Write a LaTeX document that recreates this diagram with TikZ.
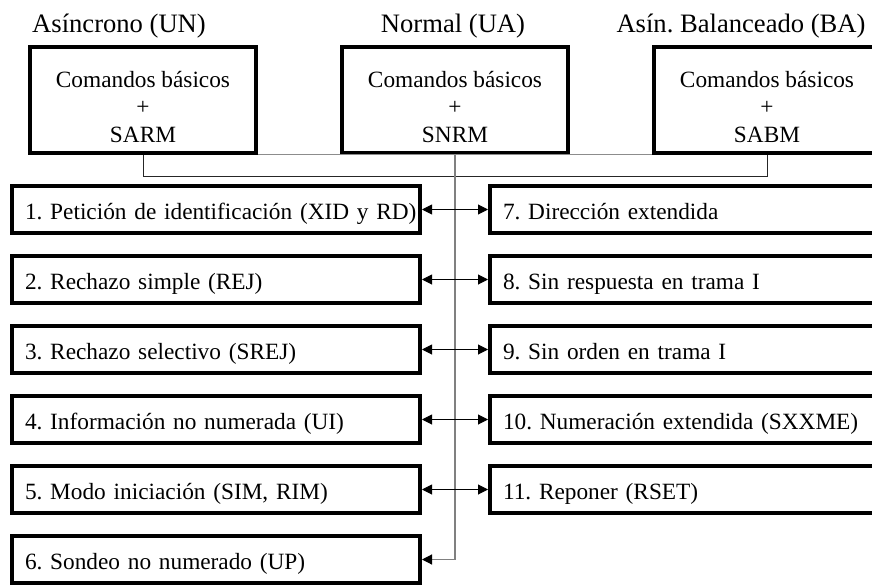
\documentclass[tikz,border=0pt]{standalone}
\usepackage{fontspec}
\setmainfont{Liberation Serif}
\usetikzlibrary{arrows.meta}
\begin{document}
\frenchspacing
\begin{tikzpicture}[x=1pt,y=-1pt,
  modebox/.style={draw, line width=4pt, minimum width=226pt, minimum height=106pt, inner sep=0pt},
  modetext/.style={align=center, font=\fontsize{23.3}{27.5}\selectfont, inner sep=0pt},
  title/.style={anchor=base, font=\fontsize{26.6}{30}\selectfont, inner sep=0pt},
  itembox/.style={draw, line width=4pt, minimum width=408pt, minimum height=47pt,
    text width=382pt, align=left, inner xsep=13pt, inner ysep=9.5pt,
    text height=24pt, text depth=4pt, font=\fontsize{23.3}{27}\selectfont},
  rail/.style={line width=1pt, black!45},
  bus/.style={line width=1pt, black!85},
  trunk/.style={line width=1.2pt, black!50},
  tip/.tip={Triangle[length=10pt,width=10pt,color=black]},
  link/.style={line width=1pt, tip-tip},
]
\useasboundingbox (0,0) rectangle (872,588);
\clip (0,0) rectangle (872,588);

% operating mode headings
\node[title] (tUN) at (119,33) {Asíncrono (UN)};
\node[title] (tUA) at (453,33) {Normal (UA)};
\node[title] (tBA) at (741,33) {Asín. Balanceado (BA)};

% mode boxes
\node[modebox] (A) at (143,100) {};
\node[modebox] (B) at (455,100) {};
\node[modebox] (C) at (767,100) {};
\node[modetext] (txA) at (143,107) {Comandos básicos\\+\\SARM};
\node[modetext] (txB) at (455,107) {Comandos básicos\\+\\SNRM};
\node[modetext] (txC) at (767,107) {Comandos básicos\\+\\SABM};

% optional functions, left column
\node[itembox] (L1) at (216,209.5) {\mbox{1. Petición de identificación (XID y RD)}};
\node[itembox] (L2) at (216,279.5) {2. Rechazo simple (REJ)};
\node[itembox] (L3) at (216,349.5) {3. Rechazo selectivo (SREJ)};
\node[itembox] (L4) at (216,419.5) {4. Información no numerada (UI)};
\node[itembox] (L5) at (216,489.5) {5. Modo iniciación (SIM, RIM)};
\node[itembox] (L6) at (216,559.5) {6. Sondeo no numerado (UP)};

% optional functions, right column
\node[itembox] (R1) at (694,209.5) {7. Dirección extendida};
\node[itembox] (R2) at (694,279.5) {8. Sin respuesta en trama I};
\node[itembox] (R3) at (694,349.5) {9. Sin orden en trama I};
\node[itembox] (R4) at (694,419.5) {\mbox{10. Numeración extendida (SXXME)}};
\node[itembox] (R5) at (694,489.5) {11. Reponer (RSET)};

% connectors
\draw[rail] (A.south east) -- (C.south west);
\draw[bus] (A.south) -- ++(0,22) -| (C.south);
\draw[trunk, -tip] (B.south) |- (L6.east);
\foreach \k in {1,...,5}
  \draw[link] (L\k.east) -- (R\k.west);
\end{tikzpicture}
\end{document}
